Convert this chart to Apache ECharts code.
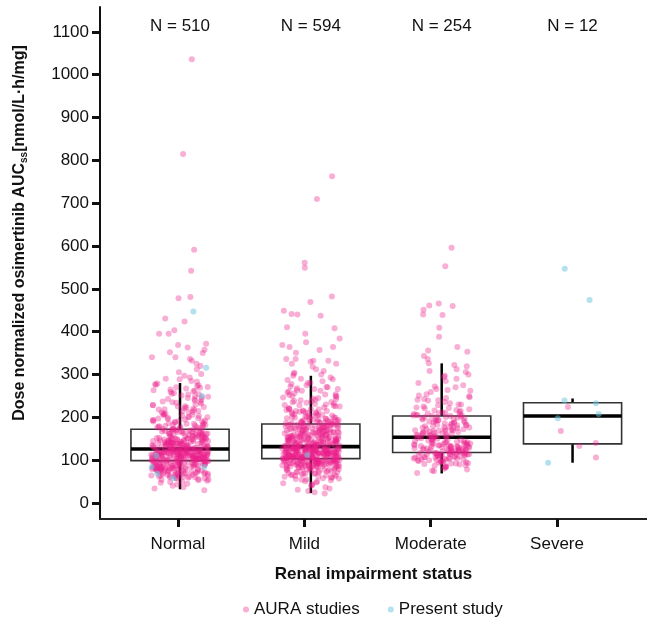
<!DOCTYPE html>
<html>
<head>
<meta charset="utf-8">
<script src="https://cdn.jsdelivr.net/npm/echarts@6/dist/echarts.min.js"></script>
<style>
html,body{margin:0;padding:0;background:#fff;}
#chart{width:647px;height:617px;}
</style>
</head>
<body>
<div id="chart"></div>
<script>
const categories = ['Normal', 'Mild', 'Moderate', 'Severe'];
const nCounts = [510, 594, 254, 12];
const yTicks = [0, 100, 200, 300, 400, 500, 600, 700, 800, 900, 1000, 1100];

// box statistics
const whiskerLow = [32, 23, 69, 94];
const q1 = [99, 103.5, 118, 138];
const median = [126, 131.5, 153.5, 203];
const q3 = [172, 184.5, 203, 234];
const whiskerHigh = [280, 297, 326, 244];

// AURA studies (pink)
const auraNormal = [
30,34,37,40,43,45,47,49,50,52,53,54,55,56,57,58,58,59,60,60,61,61,62,62,63,63,64,64,65,65,66,66,67,67,68,68,69,69,70,70,71,71,72,72,72,73,73,74,74,74,75,75,75,76,76,77,77,77,78,78,78,79,79,80,80,80,81,81,81,82,82,82,83,83,83,84,84,84,85,85,85,86,86,86,87,87,87,88,88,88,89,89,89,90,90,90,91,91,91,92,92,92,93,93,93,94,94,94,95,95,95,96,96,96,97,97,97,98,98,98,99,99,99,
100,100,100,101,101,101,101,102,102,102,102,102,103,103,103,103,104,104,104,104,104,105,105,105,105,106,106,106,106,106,107,107,107,107,108,108,108,108,108,109,109,109,109,110,110,110,110,110,111,111,111,111,112,112,112,112,112,113,113,113,113,114,114,114,114,114,115,115,115,115,116,116,116,116,116,117,117,117,117,118,118,118,118,118,119,119,119,119,120,120,120,120,120,121,121,121,121,122,122,122,122,122,123,123,123,123,124,124,124,124,124,125,125,125,125,126,126,126,
127,127,127,128,128,128,129,129,129,130,130,130,131,131,131,132,132,132,133,133,133,134,134,134,135,135,135,136,136,136,137,137,137,138,138,138,139,139,139,140,140,140,141,141,141,142,142,142,143,143,143,144,144,144,145,145,145,146,146,146,147,147,147,148,148,148,149,149,149,150,150,150,151,151,152,152,153,153,154,154,155,155,156,156,157,157,158,158,159,159,160,160,161,161,162,162,163,163,164,164,165,165,166,166,167,167,168,168,169,169,170,170,171,171,172,172,
173,173,174,175,175,176,177,178,178,179,180,181,182,183,184,185,186,187,188,189,190,191,192,193,194,196,197,198,199,200,201,203,204,205,207,208,209,211,212,214,215,217,218,220,221,223,225,226,228,230,232,234,235,237,239,241,243,245,247,249,251,253,255,257,259,261,263,265,267,269,271,273,275,277,279,180,185,190,195,200,206,213,219,224,229,236,242,248,254,262,270,276,
1036,815,591,542,481,478,431,424,403,395,395,372,369,363,358,352,350,340,340,336,332,325,320,312,305,301,297,293,290,289,285,283
];
const auraMild = [
22,25,28,31,34,37,40,42,44,46,48,50,51,53,54,55,56,57,58,59,60,61,62,63,63,64,65,66,66,67,68,68,69,70,70,71,72,72,73,74,74,75,76,76,77,77,78,78,79,79,80,80,81,81,82,82,83,83,84,84,84,85,85,85,86,86,86,87,87,87,88,88,88,89,89,89,90,90,90,90,91,91,91,91,92,92,92,92,93,93,93,93,94,94,94,94,95,95,95,95,96,96,96,96,97,97,97,97,98,98,98,98,99,99,99,99,100,100,100,100,101,101,101,101,102,102,102,102,103,103,103,103,
104,104,104,104,104,105,105,105,105,105,106,106,106,106,106,107,107,107,107,107,108,108,108,108,108,109,109,109,109,109,110,110,110,110,110,111,111,111,111,111,112,112,112,112,112,113,113,113,113,113,114,114,114,114,114,115,115,115,115,115,116,116,116,116,116,117,117,117,117,117,118,118,118,118,118,119,119,119,119,119,120,120,120,120,120,121,121,121,121,121,122,122,122,122,122,123,123,123,123,123,124,124,124,124,124,125,125,125,125,125,126,126,126,126,126,127,127,127,127,127,128,128,128,128,128,129,129,129,129,129,130,130,130,130,130,131,131,131,131,131,
132,132,132,133,133,133,134,134,134,135,135,135,136,136,136,137,137,137,138,138,138,139,139,139,140,140,140,141,141,141,142,142,142,143,143,143,144,144,144,145,145,145,146,146,146,147,147,147,148,148,148,149,149,149,150,150,150,151,151,151,152,152,152,153,153,153,154,154,154,155,155,155,156,156,156,157,157,157,158,158,158,159,159,160,160,160,161,161,162,162,162,163,163,164,164,164,165,165,166,166,166,167,167,168,168,168,169,169,170,170,170,171,171,172,172,172,173,173,174,174,174,175,175,176,176,176,177,177,178,178,178,179,179,180,180,180,181,181,182,182,182,183,183,184,184,
185,185,186,186,187,187,188,188,189,189,190,190,191,191,192,193,193,194,195,195,196,197,197,198,199,200,200,201,202,203,204,205,206,207,208,209,210,211,212,213,214,215,216,217,218,219,220,222,223,225,226,228,229,231,232,234,235,237,238,240,241,243,245,246,248,250,252,254,256,258,260,262,264,266,268,270,272,275,278,281,284,287,290,293,297,188,194,199,206,212,219,227,236,244,253,262,271,280,289,203,215,230,249,266,
763,710,561,549,482,469,449,441,440,437,410,408,395,384,375,369,364,364,357,351,336,336,332,332,330,325,325,318,312,308,304,302,300
];
const auraModerate = [
70,74,76,78,80,82,84,86,86,87,88,90,91,92,92,93,94,95,96,97,98,98,99,100,101,101,102,103,104,104,105,106,106,107,108,108,109,109,110,110,111,111,112,112,113,113,114,114,115,115,116,116,117,117,118,118,103,107,111,114,116,96,100,
119,119,120,120,121,121,122,122,123,123,124,124,125,125,126,126,127,127,128,128,129,129,130,130,131,131,132,132,133,133,134,134,135,135,136,136,137,137,138,138,139,140,141,142,143,144,145,146,147,148,149,150,151,152,153,125,131,137,143,149,153,147,141,
154,155,156,157,158,159,160,161,162,163,164,165,166,167,168,169,170,171,172,173,174,175,176,177,178,179,180,181,182,183,184,185,186,187,188,189,190,191,192,193,194,195,196,197,198,199,200,201,202,203,156,160,164,168,172,176,182,188,194,200,203,158,170,
204,205,206,207,208,209,210,212,213,215,217,219,221,223,225,228,230,233,236,239,241,243,245,247,249,251,254,259,262,264,266,270,272,275,280,285,290,294,297,300,306,308,312,319,322,326,205,210,216,222,230,240,
596,553,466,461,460,451,440,439,409,388,364,356,353,343,336
];
const auraSevere = [224, 168, 140, 133, 106];

// Present study (cyan)
const presentNormal = [447, 316, 250, 110, 84, 84, 68, 58];
const presentMild = [112];
const presentModerate = [];
const presentSevere = [547, 474, 239, 233, 208, 198, 94];

const auraGroups = [auraNormal, auraMild, auraModerate, auraSevere];
const presentGroups = [presentNormal, presentMild, presentModerate, presentSevere];

// deterministic horizontal jitter (layout only)
function jitter(i, g, s) {
  const v = Math.sin((i + 1) * 12.9898 + g * 78.233 + s * 37.719) * 43758.5453;
  return (v - Math.floor(v)) - 0.5;
}
function buildPoints(groups, s) {
  const out = [];
  groups.forEach((arr, g) => {
    arr.forEach((v, i) => out.push([g + 1 + jitter(i, g, s) * 0.44, v]));
  });
  return out;
}

const FONT = '"Liberation Sans", Arial, sans-serif';
const chart = echarts.init(document.getElementById('chart'), null, {renderer: 'canvas'});

const boxData = categories.map((c, i) => [i + 1, whiskerLow[i], q1[i], median[i], q3[i], whiskerHigh[i]]);
const N_LABEL_Y = 1112;

chart.setOption({
  animation: false,
  backgroundColor: '#fff',
  grid: {left: 100, right: 0, top: 7, bottom: 98, containLabel: false},
  xAxis: [
    {
      type: 'value', min: 0.3826, max: 4.712,
      axisLine: {show: true, onZero: false, lineStyle: {color: '#222', width: 2}},
      axisTick: {show: true, length: 8, lineStyle: {color: '#111', width: 3}, customValues: [1, 2, 3, 4]},
      axisLabel: {show: true, margin: 17, fontSize: 17, color: '#111', fontFamily: FONT,
        customValues: [1, 2, 3, 4], formatter: v => categories[Math.round(v) - 1] || ''},
      splitLine: {show: false},
      name: 'Renal impairment status', nameLocation: 'middle', nameGap: 47,
      nameTextStyle: {fontSize: 17, fontWeight: 'bold', color: '#111', fontFamily: FONT}
    },
    {
      type: 'value', min: 0.3885, max: 4.569, show: false,
      splitLine: {show: false}
    }
  ],
  yAxis: {
    type: 'value', min: -37.4, max: 1158,
    axisLine: {show: true, lineStyle: {color: '#111', width: 2}},
    axisTick: {show: true, length: 8, lineStyle: {color: '#111', width: 3}, customValues: yTicks},
    axisLabel: {show: true, margin: 11, fontSize: 17, color: '#111', fontFamily: FONT, customValues: yTicks,
      formatter: v => String(v)},
    splitLine: {show: false}
  },
  legend: {
    left: 238, top: 596, itemWidth: 6, itemHeight: 6, itemGap: 28, icon: 'circle',
    textStyle: {fontSize: 17, color: '#111', fontFamily: FONT},
    data: ['AURA studies', 'Present study']
  },
  graphic: [{
    type: 'text', x: 20, y: 233, rotation: Math.PI / 2,
    style: {
      text: '{b|Dose normalized osimertinib AUC}{s|ss}{b|[nmol/L·h/mg]}',
      align: 'center', verticalAlign: 'middle',
      rich: {
        b: {fontSize: 16, fontWeight: 'bold', fill: '#111', fontFamily: FONT, lineHeight: 20},
        s: {fontSize: 10, fontWeight: 'bold', fill: '#111', fontFamily: FONT, lineHeight: 20, padding: [9, 0, 0, 0]}
      }
    }
  }],
  series: [
    {
      type: 'custom', name: 'box', xAxisIndex: 1, z: 1,
      data: boxData,
      renderItem: function (params, api) {
        const x = api.value(0);
        const pLow = api.coord([x, api.value(1)]);
        const pQ1 = api.coord([x, api.value(2)]);
        const pMed = api.coord([x, api.value(3)]);
        const pQ3 = api.coord([x, api.value(4)]);
        const pHigh = api.coord([x, api.value(5)]);
        const half = api.size([0.75, 0])[0] / 2;
        return {
          type: 'group',
          children: [
            {type: 'line', shape: {x1: pQ3[0], y1: pQ3[1], x2: pHigh[0], y2: pHigh[1]}, style: {stroke: '#000', lineWidth: 2.5}},
            {type: 'line', shape: {x1: pQ1[0], y1: pQ1[1], x2: pLow[0], y2: pLow[1]}, style: {stroke: '#000', lineWidth: 2.5}},
            {type: 'rect', shape: {x: pQ3[0] - half, y: pQ3[1], width: half * 2, height: pQ1[1] - pQ3[1]}, style: {fill: 'none', stroke: '#333', lineWidth: 1.6}},
            {type: 'line', shape: {x1: pMed[0] - half, y1: pMed[1], x2: pMed[0] + half, y2: pMed[1]}, style: {stroke: '#000', lineWidth: 3.6}}
          ]
        };
      }
    },
    {
      type: 'scatter', name: 'AURA studies', xAxisIndex: 1, z: 3,
      symbolSize: 6, progressive: 0, large: false,
      itemStyle: {color: 'rgba(236,30,138,0.45)'},
      data: buildPoints(auraGroups, 0)
    },
    {
      type: 'scatter', name: 'Present study', xAxisIndex: 1, z: 4,
      symbolSize: 6, progressive: 0,
      itemStyle: {color: 'rgba(110,200,222,0.65)'},
      data: buildPoints(presentGroups, 1)
    },
    {
      type: 'custom', name: 'N', xAxisIndex: 1, z: 5, silent: true,
      data: nCounts.map((n, i) => [i + 1, N_LABEL_Y, n]),
      renderItem: function (params, api) {
        const p = api.coord([api.value(0), api.value(1)]);
        return {
          type: 'text', x: p[0], y: p[1],
          style: {text: 'N = ' + api.value(2), fill: '#111', fontSize: 17, fontFamily: FONT,
            align: 'center', verticalAlign: 'middle'}
        };
      }
    }
  ]
});
</script>
</body>
</html>
